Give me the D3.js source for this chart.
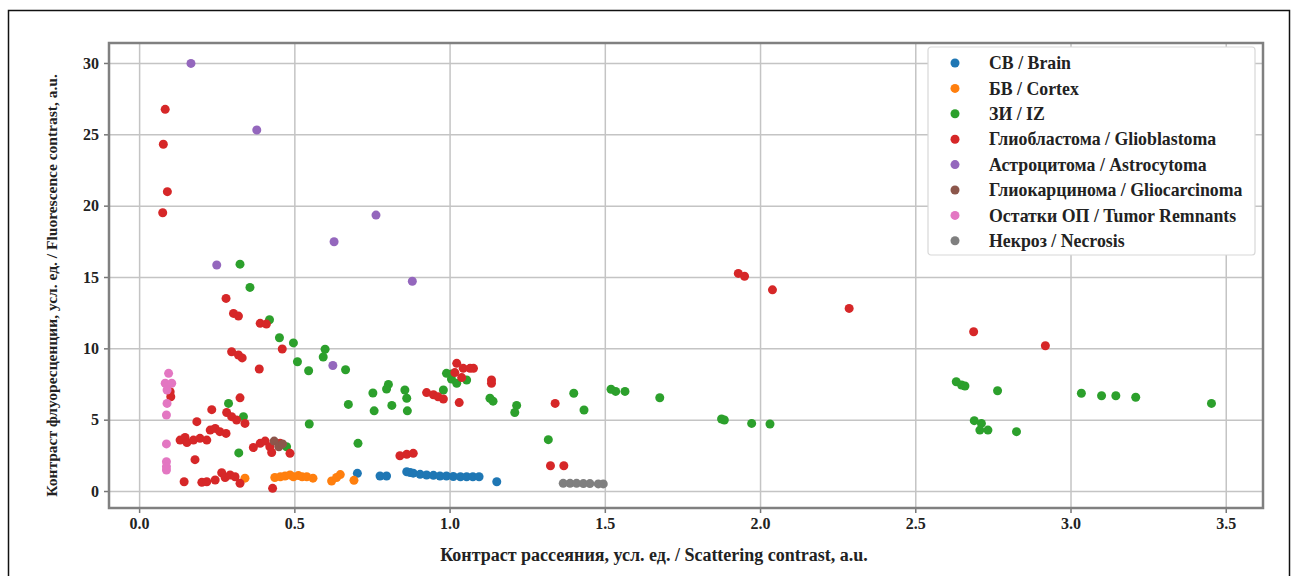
<!DOCTYPE html>
<html>
<head>
<meta charset="utf-8">
<script src="https://cdn.jsdelivr.net/npm/d3@7"></script>
<style>
  body { margin: 0; background: #fff; }
  svg text { font-family: "Liberation Serif", "DejaVu Serif", serif; fill: #222; font-weight: bold; }
</style>
</head>
<body>
<div id="chart"></div>
<script>
// legend labels, in drawing order
const categories = [
  'СВ / Brain',
  'БВ / Cortex',
  'ЗИ / IZ',
  'Глиобластома / Glioblastoma',
  'Астроцитома / Astrocytoma',
  'Глиокарцинома / Gliocarcinoma',
  'Остатки ОП / Tumor Remnants',
  'Некроз / Necrosis',
];
const colors = ['#1f77b4', '#ff7f0e', '#2ca02c', '#d62728', '#9467bd', '#8c564b', '#e377c2', '#7f7f7f'];

// [scattering contrast, fluorescence contrast]
const brain = [
  [0.703, 1.24], [0.776, 1.05], [0.797, 1.05], [0.862, 1.35], [0.873, 1.3], [0.883, 1.25],
  [0.905, 1.17], [0.926, 1.12], [0.948, 1.1], [0.969, 1.05], [0.99, 1.05], [1.012, 1.02],
  [1.035, 1.0], [1.055, 1.0], [1.075, 1.0], [1.095, 1.0], [1.152, 0.65],
];
const cortex = [
  [0.341, 0.9], [0.437, 0.95], [0.455, 1.0], [0.47, 1.05], [0.486, 1.12], [0.497, 1.0],
  [0.513, 1.08], [0.525, 1.0], [0.54, 1.0], [0.56, 0.9], [0.62, 0.7], [0.636, 0.95],
  [0.648, 1.15], [0.692, 0.75],
];
const iz = [
  [0.325, 15.9], [0.357, 14.27], [0.42, 12.0], [0.452, 10.74], [0.497, 10.38], [0.51, 9.06],
  [0.546, 8.43], [0.599, 9.94], [0.593, 9.39], [0.665, 8.5], [0.674, 6.07], [0.753, 6.87],
  [0.757, 5.62], [0.803, 7.47], [0.797, 7.15], [0.814, 6.0], [0.856, 7.08], [0.862, 6.5],
  [0.864, 5.62], [0.288, 6.14], [0.336, 5.21], [0.321, 2.67], [0.548, 4.7], [0.705, 3.34],
  [0.475, 3.1], [0.99, 8.25], [1.006, 8.2], [1.006, 7.85], [1.023, 7.55], [1.055, 7.78],
  [0.98, 7.08], [1.13, 6.5], [1.14, 6.3], [1.216, 6.0], [1.21, 5.5], [1.318, 3.6],
  [1.40, 6.85], [1.433, 5.68], [1.52, 7.13], [1.535, 6.98], [1.565, 6.98], [1.677, 6.54],
  [1.876, 5.05], [1.885, 4.98], [1.973, 4.74], [2.032, 4.7], [2.632, 7.66], [2.649, 7.43],
  [2.66, 7.36], [2.765, 7.03], [2.69, 4.93], [2.713, 4.74], [2.708, 4.27], [2.734, 4.27],
  [2.826, 4.16], [3.035, 6.85], [3.1, 6.68], [3.146, 6.68], [3.21, 6.57], [3.454, 6.14],
];
const glioblastoma = [
  [0.084, 26.75], [0.078, 24.3], [0.091, 20.98], [0.076, 19.5],
  [0.28, 13.5], [0.304, 12.45], [0.32, 12.26], [0.39, 11.75], [0.41, 11.7], [0.461, 9.95],
  [0.298, 9.76], [0.32, 9.53], [0.332, 9.33], [0.387, 8.55], [0.1, 6.96], [0.102, 6.61],
  [0.325, 6.53], [0.234, 5.7], [0.282, 5.5], [0.298, 5.21], [0.314, 4.98], [0.341, 4.74],
  [0.186, 4.86], [0.132, 3.57], [0.148, 3.75], [0.154, 3.4], [0.175, 3.57], [0.196, 3.69],
  [0.218, 3.57], [0.229, 4.27], [0.245, 4.39], [0.26, 4.16], [0.28, 4.04], [0.368, 3.05],
  [0.39, 3.34], [0.406, 3.5], [0.421, 3.1], [0.427, 2.7], [0.454, 3.34], [0.486, 2.64],
  [0.18, 2.2], [0.145, 0.65], [0.202, 0.61], [0.218, 0.65], [0.245, 0.77], [0.266, 1.28],
  [0.277, 0.95], [0.293, 1.12], [0.309, 1.0], [0.325, 0.54], [0.43, 0.19],
  [0.84, 2.47], [0.862, 2.57], [0.883, 2.64], [0.926, 6.9], [0.948, 6.75], [0.963, 6.6],
  [0.98, 6.45], [1.023, 8.95], [1.044, 8.6], [1.066, 8.6], [1.077, 8.6], [1.039, 7.95],
  [1.017, 8.3], [1.031, 6.2], [1.135, 7.78], [1.135, 7.55], [1.325, 1.77], [1.368, 1.77],
  [1.34, 6.14], [1.93, 15.25], [1.95, 15.05], [2.04, 14.1], [2.287, 12.8], [2.688, 11.16],
  [2.919, 10.18],
];
const astrocytoma = [
  [0.167, 29.97], [0.379, 25.3], [0.763, 19.34], [0.628, 17.47], [0.25, 15.84], [0.88, 14.7],
  [0.624, 8.8],
];
const gliocarcinoma = [[0.435, 3.5], [0.45, 3.1], [0.462, 3.3]];
const remnants = [
  [0.095, 8.25], [0.084, 7.55], [0.105, 7.55], [0.09, 7.08], [0.09, 6.14], [0.088, 5.33],
  [0.088, 3.3], [0.088, 2.05], [0.088, 1.7], [0.088, 1.47],
];
const necrosis = [
  [1.366, 0.54], [1.388, 0.54], [1.409, 0.54], [1.431, 0.52], [1.452, 0.52], [1.479, 0.5],
  [1.495, 0.5],
];
const series = [brain, cortex, iz, glioblastoma, astrocytoma, gliocarcinoma, remnants, necrosis];

const xTicks = [0, 0.5, 1, 1.5, 2, 2.5, 3, 3.5];
const yTicks = [0, 5, 10, 15, 20, 25, 30];
const xTitle = 'Контраст рассеяния, усл. ед. / Scattering contrast, a.u.';
const yTitle = 'Контраст флуоресценции, усл. ед. / Fluorescence contrast, a.u.';

const W = 1297, H = 576;
const margin = { top: 43, right: 34, bottom: 68, left: 109 };
const width = W - margin.left - margin.right;
const height = H - margin.top - margin.bottom;

const svg = d3.select('#chart').append('svg')
  .attr('width', W)
  .attr('height', H);

// outer frame of the figure
svg.append('rect')
  .attr('x', 8.5).attr('y', 10.5)
  .attr('width', 1281).attr('height', 600)
  .attr('fill', 'none')
  .attr('stroke', '#111')
  .attr('stroke-width', 1.5);

const g = svg.append('g')
  .attr('transform', `translate(${margin.left},${margin.top})`);

const xScale = d3.scaleLinear().domain([-0.097, 3.62]).range([0, width]);
const yScale = d3.scaleLinear().domain([-1.19, 31.4]).range([height, 0]);

// grid
g.append('g')
  .attr('class', 'grid')
  .attr('transform', `translate(0,${height})`)
  .call(d3.axisBottom(xScale).tickValues(xTicks).tickSize(-height).tickFormat(''))
  .call((s) => s.select('.domain').remove());
g.append('g')
  .attr('class', 'grid')
  .call(d3.axisLeft(yScale).tickValues(yTicks).tickSize(-width).tickFormat(''))
  .call((s) => s.select('.domain').remove());
g.selectAll('.grid line').attr('stroke', '#c4c4c4').attr('stroke-width', 1.5);

// axes
const xAxisG = g.append('g')
  .attr('transform', `translate(0,${height})`)
  .call(d3.axisBottom(xScale).tickValues(xTicks).tickSize(5).tickPadding(5).tickFormat(d3.format('.1f')));
const yAxisG = g.append('g')
  .call(d3.axisLeft(yScale).tickValues(yTicks).tickSize(5).tickPadding(5).tickFormat(d3.format('d')));
[xAxisG, yAxisG].forEach((a) => {
  a.select('.domain').remove();
  a.selectAll('line').attr('stroke', '#777').attr('stroke-width', 1.5);
  a.selectAll('text').attr('font-size', 16).attr('fill', '#222')
    .style('font-family', '"Liberation Serif", serif');
});

// points
series.forEach((pts, i) => {
  g.append('g')
    .selectAll('circle')
    .data(pts)
    .join('circle')
    .attr('cx', (d) => xScale(d[0]))
    .attr('cy', (d) => yScale(d[1]))
    .attr('r', 4.5)
    .attr('fill', colors[i]);
});

// plot frame
g.append('rect')
  .attr('width', width).attr('height', height)
  .attr('fill', 'none')
  .attr('stroke', '#808080')
  .attr('stroke-width', 2.5);

// axis titles
svg.append('text')
  .attr('x', 654)
  .attr('y', 561)
  .attr('text-anchor', 'middle')
  .attr('font-size', 18)
  .text(xTitle);
svg.append('text')
  .attr('transform', `translate(57,${margin.top + height / 2 + 10}) rotate(-90)`)
  .attr('text-anchor', 'middle')
  .attr('font-size', 15.5)
  .text(yTitle);

// legend
const legend = svg.append('g').attr('transform', 'translate(928,47)');
legend.append('rect')
  .attr('width', 327).attr('height', 208)
  .attr('rx', 3)
  .attr('fill', '#fff')
  .attr('stroke', '#d8d8d8')
  .attr('stroke-width', 1.2);
const rows = legend.selectAll('.row')
  .data(categories)
  .join('g')
  .attr('class', 'row')
  .attr('transform', (d, i) => `translate(0,${16 + i * 25.4})`);
rows.append('circle')
  .attr('cx', 27).attr('r', 4.5)
  .attr('fill', (d, i) => colors[i]);
rows.append('text')
  .attr('x', 61).attr('dy', '0.35em')
  .attr('font-size', 17.8)
  .text((d) => d);
</script>
</body>
</html>
